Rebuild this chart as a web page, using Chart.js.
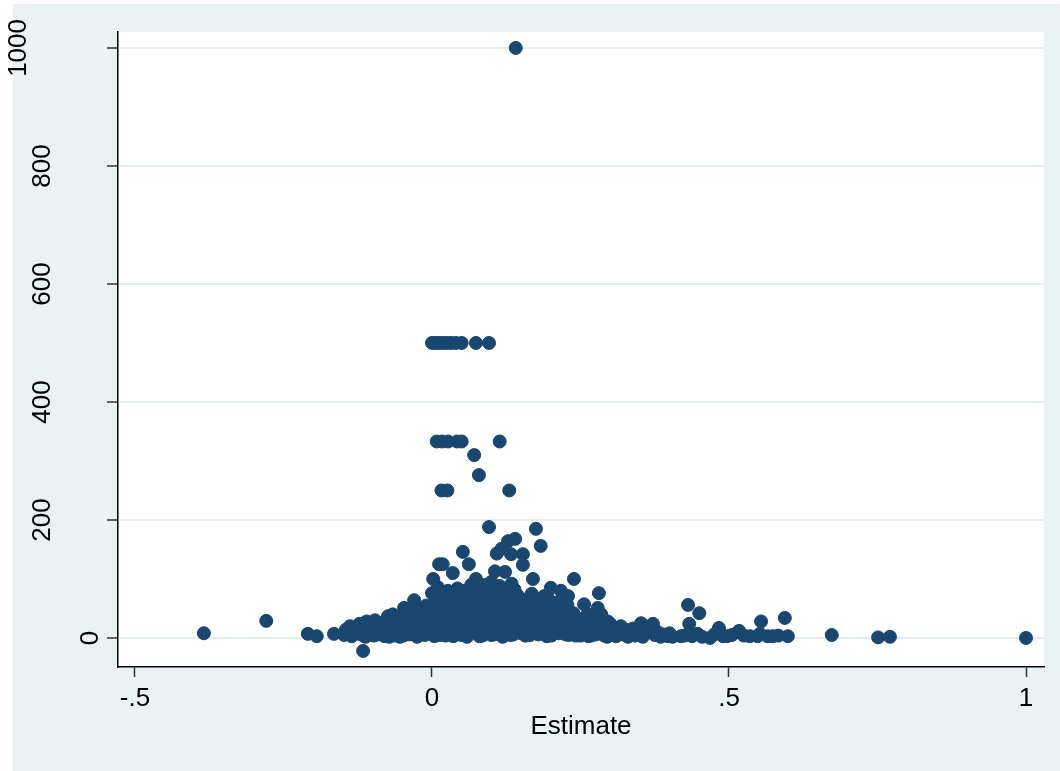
<!DOCTYPE html>
<html>
<head>
<meta charset="utf-8">
<script src="https://cdn.jsdelivr.net/npm/chart.js@4.4.1/dist/chart.umd.min.js"></script>
<style>
  body { margin: 0; background: #ffffff; }
  #wrap { width: 1060px; height: 771px; }
</style>
</head>
<body>
<div id="wrap"><canvas id="grafico"></canvas></div>
<script>
// tick values and labels
var xTicks = [-0.5, 0, 0.5, 1];
var xTickLabels = ["-.5", "0", ".5", "1"];
var yTicks = [0, 200, 400, 600, 800, 1000];

// points: [estimate, y]
var topPoints = [
  [0.141, 1000],
  [0.0, 500], [0.006, 500], [0.012, 500], [0.018, 500], [0.025, 500], [0.032, 500],
  [0.04, 500], [0.05, 500], [0.074, 500], [0.096, 500],
  [0.008, 333], [0.017, 333], [0.027, 333], [0.042, 333], [0.05, 333], [0.114, 333],
  [0.071, 310], [0.079, 276],
  [0.016, 250], [0.026, 250], [0.130, 250],
  [0.096, 188], [0.175, 185], [0.183, 156]
];

var leftPoints = [
  [-0.384, 8], [-0.279, 29], [-0.209, 7], [-0.194, 3], [-0.165, 7], [-0.116, -22],
  [-0.148, 5], [-0.14, 10], [-0.135, 3], [-0.13, 14], [-0.125, 18], [-0.12, 6],
  [-0.118, 12], [-0.112, 2], [-0.108, 16], [-0.105, 8], [-0.10, 20], [-0.098, 4],
  [-0.095, 12], [-0.092, 18], [-0.09, 6], [-0.085, 25], [-0.083, 10], [-0.08, 3],
  [-0.075, 15], [-0.074, 37], [-0.07, 8], [-0.068, 22], [-0.065, 30], [-0.062, 4],
  [-0.06, 14], [-0.057, 26], [-0.055, 9], [-0.052, 35], [-0.05, 18], [-0.047, 51],
  [-0.048, 4], [-0.045, 12], [-0.042, 28], [-0.04, 40], [-0.038, 6], [-0.035, 20],
  [-0.032, 45], [-0.03, 64], [-0.03, 10], [-0.027, 33], [-0.025, 2], [-0.022, 25],
  [-0.02, 48], [-0.018, 15], [-0.015, 38], [-0.012, 5], [-0.01, 55], [-0.008, 22],
  [-0.005, 30], [-0.003, 10],
  [-0.145, 14], [-0.138, 20], [-0.128, 8], [-0.122, 24], [-0.115, 4], [-0.11, 28],
  [-0.102, 12], [-0.096, 30], [-0.088, 14], [-0.078, 28], [-0.072, 2], [-0.066, 40],
  [-0.059, 20], [-0.054, 2], [-0.049, 28], [-0.046, 40]
];

var clusterPoints = [
  [0, 76], [0, 42], [0.002, 100], [0.002, 18], [0.004, 3],
  [0.005, 60], [0.007, 28], [0.008, 12], [0.01, 86], [0.012, 125], [0.018, 125],
  [0.012, 45], [0.014, 5], [0.016, 35], [0.018, 70], [0.02, 20], [0.022, 52],
  [0.024, 8], [0.026, 38], [0.028, 65], [0.03, 15], [0.032, 28], [0.034, 48],
  [0.035, 110], [0.036, 3], [0.038, 58], [0.04, 22], [0.042, 72], [0.044, 10],
  [0.046, 40], [0.048, 30], [0.05, 62], [0.05, 5], [0.052, 146], [0.062, 125],
  [0.054, 18], [0.056, 80], [0.058, 45], [0.06, 25], [0.062, 8], [0.064, 55],
  [0.066, 90], [0.068, 33], [0.07, 12], [0.072, 68], [0.074, 100], [0.076, 40],
  [0.078, 20], [0.08, 3], [0.082, 58], [0.084, 85], [0.086, 28], [0.088, 45],
  [0.09, 10], [0.092, 75], [0.094, 35], [0.096, 18], [0.098, 60], [0.1, 95], [0.1, 5],
  [0.102, 42], [0.104, 25], [0.106, 113], [0.108, 70], [0.11, 12], [0.112, 52],
  [0.114, 88], [0.116, 30], [0.118, 8], [0.12, 62], [0.123, 112], [0.124, 38],
  [0.126, 20], [0.128, 78], [0.13, 48], [0.132, 5], [0.134, 92], [0.136, 28],
  [0.138, 60], [0.14, 15], [0.142, 40], [0.144, 72], [0.146, 22], [0.148, 55], [0.15, 8],
  [0.109, 143], [0.117, 151], [0.128, 164], [0.14, 168], [0.133, 142], [0.153, 142],
  [0.153, 124], [0.195, 68],
  [0.152, 35], [0.155, 65], [0.158, 18], [0.162, 45], [0.165, 5], [0.168, 75],
  [0.17, 28], [0.17, 100], [0.175, 50], [0.178, 12], [0.18, 38], [0.183, 62],
  [0.186, 20], [0.189, 71], [0.19, 42], [0.193, 3], [0.196, 30], [0.2, 85],
  [0.2, 55], [0.203, 15],
  [0.205, 38], [0.208, 24], [0.21, 60], [0.213, 8], [0.217, 80], [0.218, 45],
  [0.222, 51], [0.224, 18], [0.226, 32], [0.229, 71], [0.23, 5], [0.233, 40],
  [0.236, 22], [0.239, 100], [0.24, 12], [0.243, 35], [0.246, 28], [0.25, 4],
  [0.252, 20], [0.256, 57], [0.258, 10], [0.26, 34], [0.263, 3], [0.266, 22],
  [0.27, 14], [0.273, 38], [0.276, 6], [0.279, 51], [0.281, 76], [0.283, 18],
  [0.286, 28], [0.289, 8], [0.292, 20], [0.295, 2], [0.298, 14], [0.3, 24]
];

var densePoints = [
  [-0.044, 20], [-0.036, 30], [-0.028, 18], [-0.02, 6], [-0.014, 26], [-0.006, 44],
  [0.001, 30], [0.006, 8], [0.009, 22], [0.011, 64], [0.015, 18], [0.017, 50],
  [0.021, 36], [0.023, 4], [0.025, 26], [0.027, 80], [0.029, 44], [0.031, 6],
  [0.033, 60], [0.037, 34], [0.039, 14], [0.041, 50], [0.043, 84], [0.045, 24],
  [0.047, 6], [0.049, 46], [0.051, 76], [0.053, 32], [0.055, 12], [0.057, 60],
  [0.059, 2], [0.061, 40], [0.063, 20], [0.065, 72], [0.067, 10], [0.069, 50],
  [0.071, 30], [0.073, 85], [0.075, 8], [0.077, 58], [0.079, 36], [0.081, 18],
  [0.083, 70], [0.085, 4], [0.087, 52], [0.089, 26], [0.091, 90], [0.093, 12],
  [0.095, 46], [0.097, 32], [0.099, 74], [0.101, 20], [0.103, 58], [0.105, 6],
  [0.107, 36], [0.109, 86], [0.111, 28], [0.113, 14], [0.115, 64], [0.117, 44],
  [0.119, 2], [0.121, 24], [0.123, 80], [0.125, 52], [0.127, 10], [0.129, 34],
  [0.131, 68], [0.133, 18], [0.135, 46], [0.137, 6], [0.139, 82], [0.141, 30],
  [0.143, 54], [0.145, 12], [0.147, 38], [0.149, 66], [0.151, 22], [0.154, 48],
  [0.157, 4], [0.16, 30], [0.163, 62], [0.166, 14], [0.169, 42], [0.172, 24],
  [0.176, 66], [0.179, 6], [0.182, 46], [0.185, 30], [0.188, 12], [0.191, 56],
  [0.194, 22], [0.198, 42], [0.201, 4], [0.206, 28], [0.211, 14], [0.215, 48],
  [0.22, 32], [0.225, 6], [0.228, 56], [0.232, 20], [0.238, 42], [0.242, 4],
  [0.248, 30], [0.254, 12], [0.262, 40], [0.268, 4], [0.272, 26], [0.278, 12],
  [0.285, 40], [0.29, 4], [0.296, 28]
];

var rightPoints = [
  [0.303, 8], [0.306, 18], [0.31, 3], [0.314, 12], [0.318, 20], [0.322, 6],
  [0.326, 14], [0.33, 2], [0.334, 9], [0.338, 16], [0.342, 4], [0.346, 11],
  [0.352, 25], [0.355, 2], [0.36, 8], [0.365, 14], [0.372, 24], [0.375, 5],
  [0.38, 10], [0.385, 2], [0.39, 6], [0.397, 3], [0.4, 8],
  [0.405, 2], [0.419, 3], [0.425, 4], [0.431, 56], [0.45, 42], [0.433, 24],
  [0.438, 3], [0.447, 7], [0.455, 2], [0.468, 0], [0.475, 6], [0.483, 17],
  [0.49, 3], [0.497, 3], [0.505, 5], [0.517, 12], [0.525, 4], [0.535, 3],
  [0.548, 3], [0.552, 7], [0.554, 28], [0.565, 3], [0.574, 3], [0.583, 4],
  [0.594, 34], [0.599, 3],
  [0.673, 5], [0.751, 1], [0.771, 2], [1.0, 0]
];

var allPoints = topPoints.concat(leftPoints, clusterPoints, densePoints, rightPoints).map(function (p) {
  return { x: p[0], y: p[1] };
});

// stata style background and rotated y labels
var fondo = {
  id: 'fondo',
  beforeDraw: function (chart) {
    var c = chart.ctx, a = chart.chartArea;
    c.save();
    c.fillStyle = '#ffffff';
    c.fillRect(0, 0, chart.width, chart.height);
    c.fillStyle = '#EAF2F3';
    c.fillRect(13, 4, chart.width - 13, chart.height - 4);
    c.fillStyle = '#ffffff';
    c.fillRect(a.left, a.top, a.right - a.left, a.bottom - a.top);
    c.restore();
  },
  afterDraw: function (chart) {
    var c = chart.ctx, s = chart.scales.y;
    c.save();
    c.fillStyle = '#000000';
    c.font = '26px "Liberation Sans", Arial, sans-serif';
    c.textAlign = 'center';
    c.textBaseline = 'middle';
    yTicks.forEach(function (v) {
      var txt = String(v);
      var px = 115 - 24 * txt.length;
      c.save();
      c.translate(px, s.getPixelForValue(v));
      c.rotate(-Math.PI / 2);
      c.fillText(txt, 0, 0);
      c.restore();
    });
    c.restore();
  }
};

var ctx = document.getElementById('grafico').getContext('2d');
var myChart = new Chart(ctx, {
  type: 'scatter',
  data: {
    datasets: [{
      label: 'Estimate',
      data: allPoints,
      backgroundColor: '#1A476F',
      borderColor: '#1A476F',
      borderWidth: 1,
      pointRadius: 6.5,
      pointHoverRadius: 6.5
    }]
  },
  options: {
    responsive: true,
    maintainAspectRatio: false,
    animation: false,
    layout: {
      padding: { left: 107, right: 16, top: 32, bottom: 29 }
    },
    scales: {
      x: {
        type: 'linear',
        min: -0.5286,
        max: 1.0303,
        afterBuildTicks: function (s) {
          s.ticks = xTicks.map(function (v) { return { value: v }; });
        },
        afterFit: function (s) {
          s.height = 75;
        },
        ticks: {
          color: '#000000',
          padding: 6,
          maxRotation: 0,
          font: { family: '"Liberation Sans", Arial, sans-serif', size: 26 },
          callback: function (v) {
            var i = xTicks.indexOf(v);
            return i >= 0 ? xTickLabels[i] : '';
          }
        },
        grid: {
          drawOnChartArea: false,
          drawTicks: true,
          tickLength: 10,
          tickColor: '#333333',
          tickWidth: 1.5
        },
        border: { display: true, color: '#000000', width: 1.5 },
        title: {
          display: true,
          text: 'Estimate',
          color: '#000000',
          padding: 0,
          font: { family: '"Liberation Sans", Arial, sans-serif', size: 26 }
        }
      },
      y: {
        type: 'linear',
        min: -49.2,
        max: 1027,
        afterBuildTicks: function (s) {
          s.ticks = yTicks.map(function (v) { return { value: v }; });
        },
        ticks: { display: false },
        grid: {
          color: '#E3ECEF',
          lineWidth: 2,
          drawTicks: true,
          tickLength: 11,
          tickColor: '#333333',
          tickWidth: 1.5
        },
        border: { display: true, color: '#000000', width: 1.5 }
      }
    },
    plugins: {
      legend: { display: false },
      tooltip: { enabled: false }
    }
  },
  plugins: [fondo]
});
</script>
</body>
</html>
